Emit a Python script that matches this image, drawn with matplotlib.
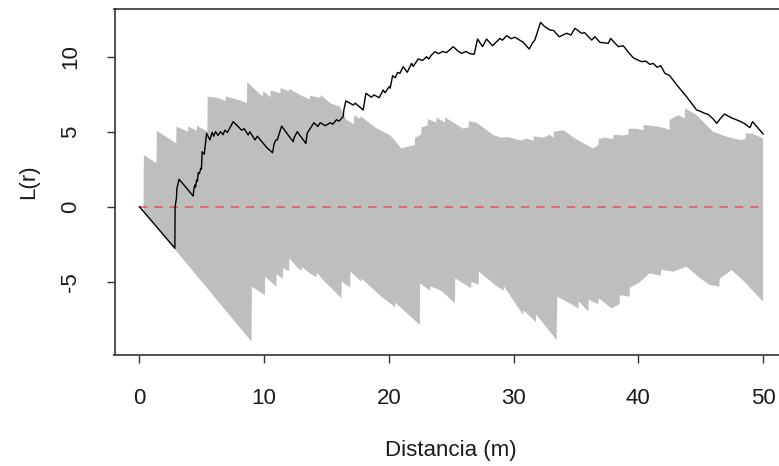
import numpy as np
import matplotlib
matplotlib.use("Agg")
import matplotlib.pyplot as plt

# Observed L(r) (centred: L(r) - r)
obs_r = [0, 2.84, 2.86, 2.97, 3.0, 3.18, 4.31, 4.35, 4.44, 4.5, 4.58, 4.65, 4.71,
         4.8, 4.92, 4.97, 5.03, 5.2, 5.25, 5.38, 5.65, 5.83, 5.95, 6.1, 6.3, 6.5,
         6.7, 6.85, 7.05, 7.52, 8.2, 8.4, 8.72, 8.85, 9.26, 9.45, 10.2, 10.67,
         10.8, 10.94, 11.05, 11.4, 11.9, 12.33, 12.4, 12.65, 13.34, 13.45, 13.99,
         14.3, 14.5, 14.9, 15.3, 15.5, 15.8, 16.0, 16.33, 16.4, 16.55, 17.14,
         17.3, 17.94, 18.16, 18.6, 18.8, 19.22, 19.54, 19.7, 20.02, 20.1, 20.3,
         20.5, 20.7, 20.88, 21.15, 21.47, 21.82, 21.95, 22.35, 22.7, 23.02, 23.2,
         23.4, 23.69, 24.0, 24.3, 24.62, 25.16, 25.5, 25.83, 26.2, 26.5, 26.84,
         27.11, 27.51, 27.83, 28.31, 28.9, 29.1, 29.44, 29.8, 30.1, 30.77, 31.25,
         31.5, 31.7, 32.16, 32.5, 32.91, 33.2, 33.66, 34.25, 34.6, 34.92, 35.45,
         35.7, 36.26, 36.52, 36.92, 37.59, 37.78, 38.39, 38.79, 39.2, 39.59,
         39.9, 40.26, 40.6, 40.93, 41.2, 41.5, 41.8, 42.13, 42.5, 43.2, 43.87,
         44.67, 45.0, 45.34, 45.6, 46.0, 46.28, 46.6, 46.92, 47.4, 48.11, 48.5,
         48.95, 49.16, 50.0]
obs_L = [0, -2.77, 0.0, 0.6, 1.2, 1.83, 0.71, 1.1, 1.45, 1.3, 1.78, 1.7, 2.27,
         2.2, 2.56, 2.5, 3.67, 3.5, 3.9, 4.89, 4.45, 4.96, 4.7, 5.0, 4.75, 5.0,
         4.8, 5.1, 4.95, 5.67, 5.1, 5.2, 4.78, 5.0, 4.45, 4.7, 3.95, 3.6,
         4.2, 4.45, 4.45, 5.38, 4.8, 4.33, 4.6, 5.0, 4.22, 4.9, 5.6,
         5.35, 5.6, 5.4, 5.6, 5.5, 5.8, 5.7, 6.0, 6.5, 7.05, 6.78,
         6.9, 6.45, 7.56, 7.3, 7.45, 7.27, 7.78, 7.6, 8.0, 7.9, 8.73,
         8.6, 8.95, 8.89, 9.33, 8.96, 9.56, 9.35, 9.85, 9.75, 10.0, 9.85,
         10.1, 10.33, 10.2, 10.35, 10.27, 10.67, 10.4, 10.22, 10.35, 10.2, 10.16,
         11.18, 10.67, 11.18, 10.73, 11.22, 11.1, 11.4, 11.2, 11.3, 10.96, 10.51,
         10.9, 11.11, 12.29, 12.0, 11.78, 11.75, 11.33, 11.56, 11.45, 11.89, 11.56,
         11.6, 11.11, 11.33, 10.96, 10.89, 11.22, 10.67, 10.73, 10.3, 9.93,
         9.8, 9.67, 9.7, 9.49, 9.55, 9.3, 9.4, 8.89, 8.75, 8.0, 7.33,
         6.45, 6.35, 6.22, 6.15, 5.85, 5.56, 5.9, 6.18, 5.95, 5.71, 5.55,
         5.27, 5.67, 4.85]

# Upper simulation envelope
hi_r = [0, 0.33, 0.35, 1.37, 1.39, 2.95, 2.97, 3.9, 3.92, 4.6, 4.62, 5.45, 5.47,
        6.3, 6.9, 6.92, 8.2, 8.62, 8.64, 9.65, 9.9, 9.92, 10.5, 10.52, 11.3,
        11.32, 12.0, 12.02, 13.0, 13.66, 13.68, 14.5, 14.52, 15.3, 16.07, 16.6,
        17.2, 17.22, 17.7, 17.72, 19.0, 20.08, 21.0, 21.5, 22.08, 22.1, 22.6,
        22.62, 23.1, 23.12, 23.8, 23.82, 24.5, 24.52, 25.96, 26.4, 26.42, 27.03,
        28.36, 29.0, 29.5, 30.64, 31.0, 31.6, 31.62, 32.37, 32.9, 33.2, 33.22,
        34.0, 35.0, 36.38, 36.8, 36.82, 37.3, 38.0, 38.02, 38.66, 39.2, 39.22,
        39.86, 40.4, 40.42, 41.5, 42.27, 42.5, 42.52, 43.2, 43.72, 43.74, 44.67,
        46.0, 47.08, 48.15, 48.6, 48.62, 49.2, 50.0]
hi_L = [0, -0.33, 3.45, 2.89, 5.07, 4.22, 5.33, 5.0, 5.35, 5.05, 5.4, 5.0, 7.33,
        7.25, 7.05, 7.35, 7.05, 6.9, 8.33, 7.5, 7.35, 7.7, 7.3, 7.75, 7.55,
        7.9, 7.7, 7.85, 7.4, 7.15, 7.4, 7.25, 7.45, 6.9, 6.67, 5.78,
        5.5, 6.1, 5.85, 6.05, 5.22, 4.78, 3.89, 4.0, 4.11, 4.6, 4.8,
        5.3, 5.4, 5.85, 5.6, 5.95, 5.6, 5.95, 5.2, 5.3, 5.7, 5.6,
        4.78, 4.6, 4.65, 4.4, 4.55, 4.4, 4.7, 4.6, 4.8, 4.6, 5.0,
        5.1, 4.5, 3.89, 4.1, 4.5, 4.6, 4.5, 4.8, 4.75, 4.8, 5.2,
        5.2, 5.1, 5.45, 5.35, 5.2, 5.1, 5.8, 6.1, 5.9, 6.56, 6.11,
        5.0, 4.67, 4.45, 4.5, 4.9, 4.85, 4.56]

# Lower simulation envelope
lo_r = [0, 8.99, 9.01, 10.06, 10.08, 10.98, 11.0, 11.5, 11.52, 12.0, 12.02, 12.6,
        13.0, 13.02, 13.66, 14.2, 14.22, 14.73, 15.27, 16.2, 16.22, 16.9, 16.92,
        17.8, 17.82, 19.4, 20.5, 20.52, 22.48, 22.5, 23.3, 23.32, 24.2, 25.3,
        25.32, 26.6, 26.62, 27.2, 27.22, 28.5, 29.2, 29.22, 30.77, 30.79, 31.8,
        31.82, 33.45, 33.5, 34.5, 35.2, 35.22, 36.0, 36.02, 36.8, 36.82, 37.86,
        38.5, 38.52, 39.3, 39.32, 40.0, 40.9, 41.8, 41.82, 42.8, 43.87, 45.0,
        45.74, 46.5, 46.52, 47.48, 48.5, 50.0]
lo_L = [0, -9.0, -5.33, -5.89, -4.67, -5.33, -4.5, -4.8, -4.1, -4.3, -3.44, -4.0,
        -4.3, -4.0, -4.44, -4.7, -4.4, -4.89, -5.33, -6.11, -5.0, -5.4, -4.33,
        -5.0, -4.8, -6.0, -6.7, -6.4, -7.89, -5.11, -5.6, -5.3, -5.6, -6.44,
        -4.78, -5.44, -5.0, -5.2, -4.33, -5.2, -5.6, -5.3, -7.22, -6.9, -7.7,
        -7.2, -8.89, -6.0, -6.44, -6.8, -6.3, -7.0, -6.2, -6.5, -6.1, -6.78,
        -6.5, -5.9, -6.0, -5.4, -5.11, -4.44, -4.6, -4.2, -4.33, -4.0, -4.8,
        -5.22, -5.33, -4.8, -4.22, -5.0, -6.33]

x_ticks = [0, 10, 20, 30, 40, 50]
y_ticks = [-5, 0, 5, 10]

plt.rcParams["font.family"] = ["Liberation Sans", "DejaVu Sans"]

W, H, DPI = 779, 466, 100
fig = plt.figure(figsize=(W / DPI, H / DPI), dpi=DPI)
left, right, top, bottom = 114.5, 788.0, 9.3, 355.0
ax = fig.add_axes([left / W, 1 - bottom / H, (right - left) / W, (bottom - top) / H])

# envelope band
env_x = np.concatenate([hi_r, lo_r[::-1]])
env_y = np.concatenate([hi_L, lo_L[::-1]])
ax.fill(env_x, env_y, color="#BEBEBE", lw=0, zorder=1)

# theoretical value under CSR
ax.plot([0, 50], [0, 0], color="#DF536B", lw=1.1, ls=(0, (5.5, 4.5)), zorder=2)

# observed
ax.plot(obs_r, obs_L, color="black", lw=1.0, zorder=3)

ax.set_xlim(-2, 52)
ax.set_ylim(-9.887, 13.16)
ax.set_xticks(x_ticks)
ax.set_yticks(y_ticks)
ax.set_yticklabels([str(v) for v in y_ticks], rotation=90, va="center")

for s in ax.spines.values():
    s.set_color("#333333")
    s.set_linewidth(1.2)
ax.tick_params(axis="both", length=6, width=1.0, color="#333333",
               labelsize=16, labelcolor="#1a1a1a")
ax.tick_params(axis="x", pad=18)
ax.tick_params(axis="y", pad=18)

ax.set_xlabel("Distancia (m)", fontsize=16, color="#1a1a1a")
ax.set_ylabel("L(r)", fontsize=16, color="#1a1a1a")
ax.xaxis.set_label_coords(0.4996, -0.275)
ax.xaxis.label.set_verticalalignment("center")
ax.yaxis.set_label_coords(-0.128, 0.5)
ax.yaxis.label.set_verticalalignment("center")

fig.savefig("out.png", dpi=DPI)
